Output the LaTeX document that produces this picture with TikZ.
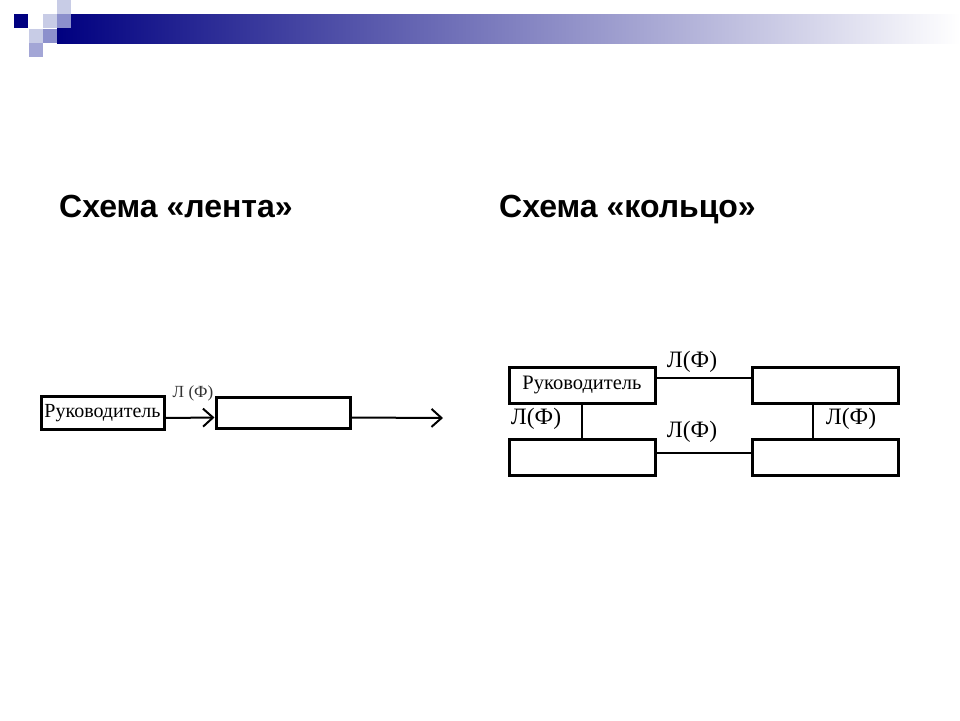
\documentclass[tikz,border=0pt]{standalone}
\usepackage{fontspec}
\setmainfont{Liberation Serif}
\newfontfamily\headfont{Liberation Sans}
\usepackage{tikz}
\usetikzlibrary{arrows.meta,positioning,calc}
\usepackage{xcolor}
\definecolor{barnavy}{RGB}{0,0,128}
\definecolor{sqlight}{RGB}{200,204,230}
\definecolor{sqmid}{RGB}{140,144,204}

\begin{document}
\begin{tikzpicture}[x=1pt, y=-1pt,
  unit/.style={draw, line width=3pt, inner sep=0pt, font=\fontsize{20.5}{20.5}\selectfont},
  conn/.style={line width=2pt},
  lf/.style={font=\fontsize{23.5}{23.5}\selectfont, inner sep=0pt},
  heading/.style={font=\headfont\bfseries\fontsize{32}{32}\selectfont, anchor=base west, inner sep=0pt}
]
\useasboundingbox (0,0) rectangle (960,720);
% slide header
\shade[left color=barnavy, right color=white] (57,14) rectangle (960,43);
\fill[barnavy] (14,14) rectangle (28,28);
\fill[sqlight] (43,14) rectangle (57,28);
\fill[sqlight] (57,0) rectangle (71,14);
\fill[sqmid] (57,14) rectangle (71,28);
\fill[sqlight] (29,29) rectangle (43,43);
\fill[sqmid] (43,29) rectangle (57,43);
\fill[sqmid!80] (29,43) rectangle (43,57);

\node[heading] (tape) at (59,217) {Схема «лента»};
\node[heading] (ring) at (499,217) {Схема «кольцо»};

% tape
\node[unit, minimum width=123, minimum height=33, font=\fontsize{20}{20}\selectfont] (lead) at (102.5,413) {Руководитель};
\node[unit, minimum width=134, minimum height=31] (next) at (283,412.5) {};
\coordinate (out) at (443,418);
\draw[conn, -{Straight Barb[length=10pt,width=18pt]}]
  ($(lead.east)+(0,5)$) -- ($(next.west)+(0,5)$);
\draw[conn, -{Straight Barb[length=10pt,width=18pt]}]
  ($(next.east)+(0,5)$) -- (out);
\node[font=\fontsize{17}{17}\selectfont, text=black!80, inner sep=0pt] (tlf) at (193,393) {Л (Ф)};

% ring
\node[unit, minimum width=146, minimum height=36] (rk) at (582,385) {Руководитель};
\node[unit, minimum width=146, minimum height=36] (tr) at (825,385) {};
\node[unit, minimum width=146, minimum height=36] (bl) at (582,457.5) {};
\node[unit, minimum width=146, minimum height=36] (br) at (825,457.5) {};
\draw[conn] ($(rk.east)+(0,-7)$) -- ($(tr.west)+(0,-7)$);
\draw[conn] ($(bl.east)+(0,-5)$) -- ($(br.west)+(0,-5)$);
\draw[conn] (rk.south) -- (bl.north);
\draw[conn] ($(tr.south)+(-12,0)$) -- ($(br.north)+(-12,0)$);
\node[lf] (lftop) at (692,362) {Л(Ф)};
\node[lf] (lfmid) at (692,432) {Л(Ф)};
\node[lf] (lfleft) at (536,419) {Л(Ф)};
\node[lf] (lfright) at (851,419) {Л(Ф)};
\end{tikzpicture}
\end{document}
